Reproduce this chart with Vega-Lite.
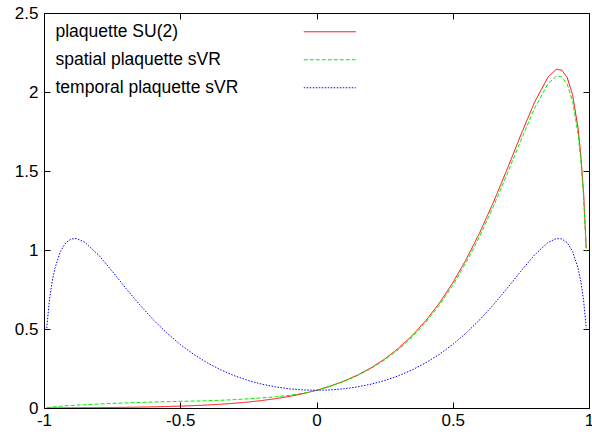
{
  "$schema": "https://vega.github.io/schema/vega-lite/v6.json",
  "width": 545,
  "height": 395,
  "autosize": {"type": "none"},
  "padding": {"left": 44, "top": 13, "right": 3, "bottom": 28},
  "background": "white",
  "config": {
    "view": {"stroke": "black", "strokeWidth": 1},
    "font": "Liberation Sans",
    "axis": {
      "grid": false,
      "domain": false,
      "tickColor": "black",
      "tickWidth": 1,
      "tickSize": -6,
      "labelFont": "Liberation Sans",
      "labelFontSize": 17,
      "labelColor": "black",
      "title": null
    },
    "legend": {
      "title": null, "orient": "none", "legendX": 4, "legendY": 10, "padding": 0,
      "symbolType": "M-5,0L5,0", "symbolSize": 108, "symbolStrokeWidth": 1,
      "symbolOffset": 273, "labelOffset": -283,
      "labelFont": "Liberation Sans", "labelFontSize": 17.5, "labelColor": "black", "labelLimit": 400,
      "rowPadding": 9
    }
  },
  "data": {
    "values": [
      {"x": -0.99, "plaquette SU(2)": 0.0002, "spatial plaquette sVR": 0.002, "temporal plaquette sVR": 0.5052},
      {"x": -0.98, "plaquette SU(2)": 0.0004, "spatial plaquette sVR": 0.004, "temporal plaquette sVR": 0.6834},
      {"x": -0.97, "plaquette SU(2)": 0.0005, "spatial plaquette sVR": 0.006, "temporal plaquette sVR": 0.8005},
      {"x": -0.96, "plaquette SU(2)": 0.0006, "spatial plaquette sVR": 0.008, "temporal plaquette sVR": 0.8841},
      {"x": -0.94, "plaquette SU(2)": 0.0007, "spatial plaquette sVR": 0.011, "temporal plaquette sVR": 0.9906},
      {"x": -0.92, "plaquette SU(2)": 0.0009, "spatial plaquette sVR": 0.014, "temporal plaquette sVR": 1.0465},
      {"x": -0.9, "plaquette SU(2)": 0.0011, "spatial plaquette sVR": 0.016, "temporal plaquette sVR": 1.0701},
      {"x": -0.88, "plaquette SU(2)": 0.0013, "spatial plaquette sVR": 0.018, "temporal plaquette sVR": 1.0723},
      {"x": -0.85, "plaquette SU(2)": 0.0017, "spatial plaquette sVR": 0.021, "temporal plaquette sVR": 1.0486},
      {"x": -0.8, "plaquette SU(2)": 0.0023, "spatial plaquette sVR": 0.025, "temporal plaquette sVR": 0.9685},
      {"x": -0.75, "plaquette SU(2)": 0.0032, "spatial plaquette sVR": 0.029, "temporal plaquette sVR": 0.866},
      {"x": -0.7, "plaquette SU(2)": 0.0042, "spatial plaquette sVR": 0.032, "temporal plaquette sVR": 0.7586},
      {"x": -0.65, "plaquette SU(2)": 0.0056, "spatial plaquette sVR": 0.035, "temporal plaquette sVR": 0.6553},
      {"x": -0.6, "plaquette SU(2)": 0.0072, "spatial plaquette sVR": 0.038, "temporal plaquette sVR": 0.5604},
      {"x": -0.55, "plaquette SU(2)": 0.0093, "spatial plaquette sVR": 0.04, "temporal plaquette sVR": 0.4758},
      {"x": -0.5, "plaquette SU(2)": 0.0119, "spatial plaquette sVR": 0.042, "temporal plaquette sVR": 0.402},
      {"x": -0.45, "plaquette SU(2)": 0.0151, "spatial plaquette sVR": 0.044, "temporal plaquette sVR": 0.3386},
      {"x": -0.4, "plaquette SU(2)": 0.0191, "spatial plaquette sVR": 0.046, "temporal plaquette sVR": 0.285},
      {"x": -0.35, "plaquette SU(2)": 0.0241, "spatial plaquette sVR": 0.049, "temporal plaquette sVR": 0.2402},
      {"x": -0.3, "plaquette SU(2)": 0.0303, "spatial plaquette sVR": 0.053, "temporal plaquette sVR": 0.2035},
      {"x": -0.25, "plaquette SU(2)": 0.0379, "spatial plaquette sVR": 0.058, "temporal plaquette sVR": 0.1739},
      {"x": -0.2, "plaquette SU(2)": 0.0474, "spatial plaquette sVR": 0.064, "temporal plaquette sVR": 0.1508},
      {"x": -0.15, "plaquette SU(2)": 0.059, "spatial plaquette sVR": 0.071, "temporal plaquette sVR": 0.1335},
      {"x": -0.1, "plaquette SU(2)": 0.0732, "spatial plaquette sVR": 0.08, "temporal plaquette sVR": 0.1214},
      {"x": -0.05, "plaquette SU(2)": 0.0907, "spatial plaquette sVR": 0.093, "temporal plaquette sVR": 0.1144},
      {"x": 0, "plaquette SU(2)": 0.112, "spatial plaquette sVR": 0.111, "temporal plaquette sVR": 0.112},
      {"x": 0.05, "plaquette SU(2)": 0.138, "spatial plaquette sVR": 0.1374, "temporal plaquette sVR": 0.1144},
      {"x": 0.1, "plaquette SU(2)": 0.1696, "spatial plaquette sVR": 0.1679, "temporal plaquette sVR": 0.1214},
      {"x": 0.15, "plaquette SU(2)": 0.2079, "spatial plaquette sVR": 0.205, "temporal plaquette sVR": 0.1335},
      {"x": 0.2, "plaquette SU(2)": 0.2542, "spatial plaquette sVR": 0.2499, "temporal plaquette sVR": 0.1508},
      {"x": 0.25, "plaquette SU(2)": 0.3099, "spatial plaquette sVR": 0.304, "temporal plaquette sVR": 0.1739},
      {"x": 0.3, "plaquette SU(2)": 0.3767, "spatial plaquette sVR": 0.3692, "temporal plaquette sVR": 0.2035},
      {"x": 0.35, "plaquette SU(2)": 0.4563, "spatial plaquette sVR": 0.4472, "temporal plaquette sVR": 0.2402},
      {"x": 0.4, "plaquette SU(2)": 0.5508, "spatial plaquette sVR": 0.5398, "temporal plaquette sVR": 0.285},
      {"x": 0.45, "plaquette SU(2)": 0.6621, "spatial plaquette sVR": 0.6489, "temporal plaquette sVR": 0.3386},
      {"x": 0.5, "plaquette SU(2)": 0.7921, "spatial plaquette sVR": 0.7763, "temporal plaquette sVR": 0.402},
      {"x": 0.55, "plaquette SU(2)": 0.9423, "spatial plaquette sVR": 0.9235, "temporal plaquette sVR": 0.4758},
      {"x": 0.6, "plaquette SU(2)": 1.1136, "spatial plaquette sVR": 1.0913, "temporal plaquette sVR": 0.5604},
      {"x": 0.65, "plaquette SU(2)": 1.305, "spatial plaquette sVR": 1.2789, "temporal plaquette sVR": 0.6553},
      {"x": 0.7, "plaquette SU(2)": 1.513, "spatial plaquette sVR": 1.4827, "temporal plaquette sVR": 0.7586},
      {"x": 0.75, "plaquette SU(2)": 1.7288, "spatial plaquette sVR": 1.6942, "temporal plaquette sVR": 0.866},
      {"x": 0.8, "plaquette SU(2)": 1.9346, "spatial plaquette sVR": 1.8959, "temporal plaquette sVR": 0.9685},
      {"x": 0.85, "plaquette SU(2)": 2.0955, "spatial plaquette sVR": 2.0536, "temporal plaquette sVR": 1.0486},
      {"x": 0.88, "plaquette SU(2)": 2.1433, "spatial plaquette sVR": 2.1004, "temporal plaquette sVR": 1.0723},
      {"x": 0.9, "plaquette SU(2)": 2.1391, "spatial plaquette sVR": 2.0963, "temporal plaquette sVR": 1.0701},
      {"x": 0.92, "plaquette SU(2)": 2.092, "spatial plaquette sVR": 2.0502, "temporal plaquette sVR": 1.0465},
      {"x": 0.94, "plaquette SU(2)": 1.9805, "spatial plaquette sVR": 1.9409, "temporal plaquette sVR": 0.9906},
      {"x": 0.96, "plaquette SU(2)": 1.7675, "spatial plaquette sVR": 1.7322, "temporal plaquette sVR": 0.8841},
      {"x": 0.97, "plaquette SU(2)": 1.6004, "spatial plaquette sVR": 1.5684, "temporal plaquette sVR": 0.8005},
      {"x": 0.98, "plaquette SU(2)": 1.3663, "spatial plaquette sVR": 1.339, "temporal plaquette sVR": 0.6834},
      {"x": 0.99, "plaquette SU(2)": 1.0102, "spatial plaquette sVR": 0.99, "temporal plaquette sVR": 0.5052}
    ]
  },
  "transform": [
    {"fold": ["plaquette SU(2)", "spatial plaquette sVR", "temporal plaquette sVR"], "as": ["series", "y"]}
  ],
  "layer": [
    {
      "mark": {"type": "line", "strokeWidth": 1, "clip": true},
      "encoding": {
        "x": {
          "field": "x", "type": "quantitative",
          "scale": {"domain": [-1, 1], "nice": false, "zero": false},
          "axis": {"orient": "bottom", "values": [-1, -0.5, 0, 0.5, 1], "labelExpr": "'' + datum.value", "labelPadding": 10, "labelFlush": false}
        },
        "y": {
          "field": "y", "type": "quantitative",
          "scale": {"domain": [0, 2.5], "nice": false},
          "axis": {"orient": "left", "values": [0, 0.5, 1, 1.5, 2, 2.5], "labelExpr": "'' + datum.value", "labelPadding": 12, "labelFlush": false}
        },
        "color": {
          "field": "series", "type": "nominal",
          "scale": {"domain": ["plaquette SU(2)", "spatial plaquette sVR", "temporal plaquette sVR"], "range": ["#ff0000", "#00ee00", "#0000ff"]}
        },
        "strokeDash": {
          "field": "series", "type": "nominal",
          "scale": {"domain": ["plaquette SU(2)", "spatial plaquette sVR", "temporal plaquette sVR"], "range": [[1, 0], [4, 2], [1.5, 1.5]]}
        }
      }
    },
    {
      "mark": {"type": "point", "opacity": 0},
      "encoding": {
        "x": {"field": "x", "type": "quantitative", "axis": {"orient": "top", "values": [-1, -0.5, 0, 0.5, 1], "labels": false}},
        "y": {"field": "y", "type": "quantitative", "axis": {"orient": "right", "values": [0, 0.5, 1, 1.5, 2, 2.5], "labels": false}}
      }
    }
  ],
  "resolve": {"axis": {"x": "independent", "y": "independent"}}
}
